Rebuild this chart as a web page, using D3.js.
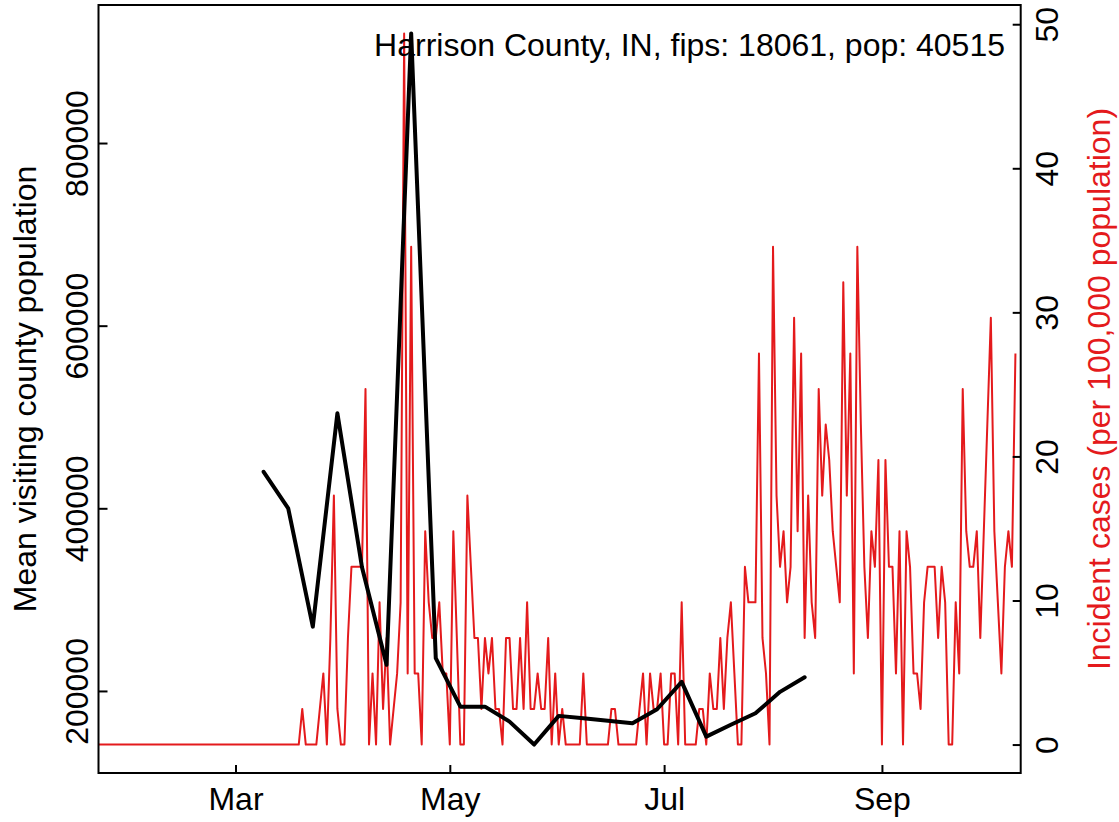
<!DOCTYPE html>
<html><head><meta charset="utf-8">
<script src="https://cdn.jsdelivr.net/npm/d3@7"></script>
<style>
body{margin:0;background:#fff}
text{font-family:"Liberation Sans",Arial,Helvetica,sans-serif}
</style>
</head><body>
<svg id="chart" width="1119" height="822"></svg>
<script>
// ---------- data ----------
const caseStart = "2020-01-22";            // first daily observation
// Incident cases per 100,000 population, one value per day
const caseRates = [
 0,0,0,0,0,0,0,0,0,0, 0,0,0,0,0,0,0,0,0,0,
 0,0,0,0,0,0,0,0,0,0, 0,0,0,0,0,0,0,0,0,0,
 0,0,0,0,0,0,0,0,0,0, 0,0,0,0,0,0,0,0,2.47,0,
 0,0,0,2.47,4.94,0,7.40,17.28,2.47,0, 0,7.40,12.34,12.34,12.34,12.34,24.68,0,4.94,0,
 9.87,2.47,7.40,0,2.47,4.94,9.87,49.36,4.94,34.55, 4.94,4.94,0,14.81,9.87,7.40,7.40,9.87,4.94,4.94,
 0,14.81,7.40,0,0,17.28,12.34,7.40,7.40,2.47, 7.40,4.94,7.40,2.47,2.47,0,7.40,7.40,2.47,2.47,
 7.40,2.47,9.87,2.47,2.47,4.94,2.47,2.47,7.40,0, 4.94,0,2.47,0,0,0,0,0,4.94,0,
 0,0,0,0,0,0,2.47,2.47,0,0, 0,0,0,0,2.47,4.94,0,4.94,2.47,2.47,
 4.94,0,0,4.94,4.94,0,9.87,0,0,0, 0,2.47,2.47,0,4.94,2.47,2.47,7.40,2.47,7.40,
 9.87,4.94,0,0,12.34,9.87,9.87,9.87,27.15,7.40, 4.94,0,34.55,17.28,12.34,14.81,9.87,12.34,29.62,14.81,
 27.15,7.40,17.28,9.87,7.40,24.68,17.28,22.21,19.75,14.81, 12.34,9.87,32.09,17.28,27.15,4.94,34.55,22.21,12.34,7.40,
 14.81,12.34,19.75,0,19.75,12.34,12.34,4.94,14.81,0, 14.81,12.34,4.94,4.94,2.47,9.87,12.34,12.34,12.34,7.40,
 12.34,9.87,0,0,9.87,4.94,24.68,14.81,12.34,12.34, 14.81,7.40,14.81,22.21,29.62,14.81,9.87,4.94,12.34,14.81,
 12.34,27.15
];
const visitStart = "2020-03-09";           // first weekly observation
// Mean visiting county population, one value per week
const visitMeans = [440000,400000,270400,504000,335500,228600,920000,236000,182800,182800,
  166400,141300,172700,170000,167300,164700,180000,210000,150000,163000,175600,199000,215000];
const monthTicks = ["2020-03-01","2020-05-01","2020-07-01","2020-09-01"];
const leftTicks = [200000,400000,600000,800000];
const rightTicks = [0,10,20,30,40,50];
const annotation = "Harrison County, IN, fips: 18061, pop: 40515";
const leftTitle = "Mean visiting county population";
const rightTitle = "Incident cases (per 100,000 population)";

// ---------- layout ----------
const L = 98.5, R = 1020.7, T = 5, B = 773;
const FS = 32;
const RED = "#E41A1C";

const parse = d3.utcParse("%Y-%m-%d");
const c0 = parse(caseStart), v0 = parse(visitStart);
const cases = caseRates.map((v, i) => ({date: d3.utcDay.offset(c0, i), v}));
const visits = visitMeans.map((v, i) => ({date: d3.utcDay.offset(v0, 7 * i), v}));

const svg = d3.select("#chart");

const x = d3.scaleUtc()
  .domain([cases[0].date, d3.utcHour.offset(cases[cases.length - 1].date, 36)])
  .range([L, R]);

function padded(lo, hi) { const r = hi - lo; return [lo - 0.04 * r, hi + 0.04 * r]; }
const yL = d3.scaleLinear().domain(padded(d3.min(visitMeans), d3.max(visitMeans))).range([B, T]);
const yR = d3.scaleLinear().domain(padded(0, d3.max(caseRates))).range([B, T]);

svg.append("defs").append("clipPath").attr("id", "clip")
  .append("rect").attr("x", L).attr("y", T).attr("width", R - L).attr("height", B - T);

// red incident line
svg.append("path").datum(cases)
  .attr("clip-path", "url(#clip)")
  .attr("fill", "none").attr("stroke", RED).attr("stroke-width", 2)
  .attr("stroke-linejoin", "round")
  .attr("d", d3.line().x(d => x(d.date)).y(d => yR(d.v)));

// black visits line
svg.append("path").datum(visits)
  .attr("clip-path", "url(#clip)")
  .attr("fill", "none").attr("stroke", "#000").attr("stroke-width", 4)
  .attr("stroke-linejoin", "round").attr("stroke-linecap", "round")
  .attr("d", d3.line().x(d => x(d.date)).y(d => yL(d.v)));

// box
svg.append("rect").attr("x", L).attr("y", T).attr("width", R - L).attr("height", B - T)
  .attr("fill", "none").attr("stroke", "#000").attr("stroke-width", 2);

// bottom axis
const gx = svg.append("g").attr("transform", `translate(0,${B})`)
  .call(d3.axisBottom(x).tickValues(monthTicks.map(parse))
    .tickFormat(d3.utcFormat("%b")).tickSizeInner(-8).tickSizeOuter(0).tickPadding(14));
gx.select(".domain").remove();
gx.selectAll("line").attr("stroke-width", 2);
gx.selectAll("text").attr("font-size", FS).attr("fill", "#000");

// left axis
const gl = svg.append("g").attr("transform", `translate(${L},0)`)
  .call(d3.axisLeft(yL).tickValues(leftTicks).tickFormat(d3.format("d"))
    .tickSizeInner(-9).tickSizeOuter(0));
gl.select(".domain").remove();
gl.selectAll("line").attr("stroke-width", 2);
gl.selectAll("text").attr("font-size", FS).attr("fill", "#000")
  .attr("transform", "rotate(-90)").attr("x", 0).attr("y", -10.5).attr("dy", 0)
  .attr("text-anchor", "middle");

// right axis
const gr = svg.append("g").attr("transform", `translate(${R},0)`)
  .call(d3.axisRight(yR).tickValues(rightTicks).tickFormat(d3.format("d"))
    .tickSizeInner(-8).tickSizeOuter(0));
gr.select(".domain").remove();
gr.selectAll("line").attr("stroke-width", 2);
gr.selectAll("text").attr("font-size", FS).attr("fill", "#000")
  .attr("transform", "rotate(-90)").attr("x", 0).attr("y", 37.3).attr("dy", 0)
  .attr("text-anchor", "middle");

// titles
const midY = (T + B) / 2;
svg.append("text").attr("transform", `translate(36,${midY}) rotate(-90)`)
  .attr("text-anchor", "middle").attr("font-size", FS).attr("fill", "#000").text(leftTitle);
svg.append("text").attr("transform", `translate(1110,${midY}) rotate(-90)`)
  .attr("text-anchor", "middle").attr("font-size", FS).attr("fill", RED).text(rightTitle);
svg.append("text").attr("x", 1005).attr("y", 56).attr("text-anchor", "end")
  .attr("font-size", FS).attr("fill", "#000").text(annotation);
</script>
</body></html>
